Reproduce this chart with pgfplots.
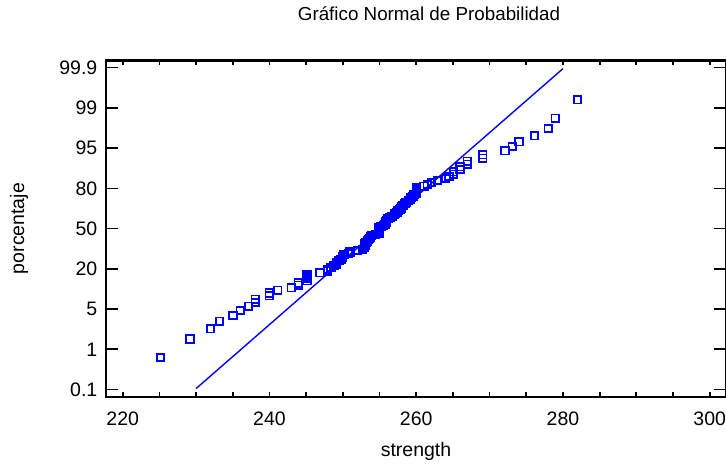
\documentclass[border=0pt]{standalone}
\usepackage{fontspec}
\setmainfont{Liberation Sans}
\usepackage{pgfplots}
\pgfplotsset{compat=1.18}
\usepackage{pgfplotstable}

% strength (x) against normal score (y)
\pgfplotstableread{
x y
225.15 -2.498
229.17 -2.139
231.97 -1.940
233.17 -1.797
235.03 -1.684
235.99 -1.589
237.14 -1.505
238.07 -1.432
238.07 -1.366
239.98 -1.305
239.98 -1.248
241.12 -1.195
242.98 -1.146
243.93 -1.099
243.93 -1.054
245.12 -1.011
245.12 -0.970
245.12 -0.931
245.12 -0.894
246.89 -0.857
247.94 -0.821
247.94 -0.787
248.39 -0.753
248.80 -0.720
249.17 -0.688
249.17 -0.657
249.48 -0.626
249.75 -0.596
249.98 -0.566
249.98 -0.537
250.16 -0.509
250.71 -0.480
250.98 -0.453
251.97 -0.424
252.70 -0.398
252.90 -0.371
253.00 -0.344
253.02 -0.318
253.02 -0.292
253.16 -0.266
253.30 -0.240
253.45 -0.214
253.60 -0.189
253.80 -0.163
253.94 -0.138
254.40 -0.113
254.93 -0.088
254.93 -0.063
254.93 -0.038
254.93 -0.013
254.93 0.013
255.20 0.038
255.48 0.063
255.75 0.088
255.88 0.113
255.88 0.138
255.98 0.163
256.16 0.189
256.43 0.214
256.70 0.240
257.02 0.266
257.11 0.292
257.38 0.318
257.52 0.344
257.79 0.371
257.93 0.398
258.02 0.424
258.20 0.453
258.47 0.480
258.61 0.509
258.92 0.537
259.16 0.566
259.29 0.596
259.56 0.626
259.70 0.657
260.07 0.688
260.07 0.720
260.07 0.753
260.07 0.787
261.06 0.821
261.50 0.857
262.11 0.894
262.88 0.931
264.02 0.970
264.47 1.011
265.06 1.054
265.06 1.099
265.97 1.146
265.97 1.195
266.96 1.248
266.96 1.305
269.06 1.366
269.06 1.432
272.10 1.505
273.06 1.589
274.01 1.684
276.10 1.797
278.00 1.940
278.96 2.139
281.96 2.498
}\strengthdata

\newcommand\lbl{\fontsize{19.5}{23}\selectfont}

\pgfplotsset{
  npp/.style={
    scale only axis, width=620pt, height=336.2pt,
    at={(0pt,0pt)}, anchor=south west,
    xmin=217.72, xmax=302.22, ymin=-3.258, ymax=3.258,
    axis line style={line width=2.3pt},
    tick style={black, line width=1.7pt},
    /pgf/number format/assume math mode=true,
    tick label style={font=\lbl},
    label style={font=\lbl},
  },
}

\begin{document}
\begin{tikzpicture}
\useasboundingbox (-106pt,-67.3pt) rectangle (620pt,396.7pt);

\begin{axis}[npp,
    xtick=\empty,
    ytick={-3.12,-2.34,-1.56,-0.78,0,0.78,1.56,2.34,3.12},
    yticklabels={0.1,1,5,20,50,80,95,99,99.9},
    major tick length=12pt,
    yticklabel style={inner sep=0pt, xshift=-8.5pt},
    ylabel={porcentaje},
    ylabel style={at={(axis description cs:-0.1403,0.5)}, anchor=center},
    title={Gráfico Normal de Probabilidad},
    title style={font=\fontsize{18.8}{22}\selectfont, at={(axis description cs:0.521,1.1002)}, anchor=base, inner sep=0pt},
  ]
  \addplot[only marks, blue, mark=square, mark size=3.7pt, mark options={line width=1.7pt}]
    table[x=x, y=y] {\strengthdata};
  \addplot[blue, line width=1.4pt] coordinates {(230,-3.1) (280,3.1)};
\end{axis}

\begin{axis}[npp,
    ytick=\empty,
    xtick={220,240,...,300},
    minor x tick num=3,
    major tick length=5pt, minor tick length=5pt,
    xticklabel style={inner sep=0pt, yshift=-15pt},
    xlabel={strength},
    xlabel style={at={(axis description cs:0.5,-0.1785)}, anchor=base},
  ]
\end{axis}
\end{tikzpicture}
\end{document}
